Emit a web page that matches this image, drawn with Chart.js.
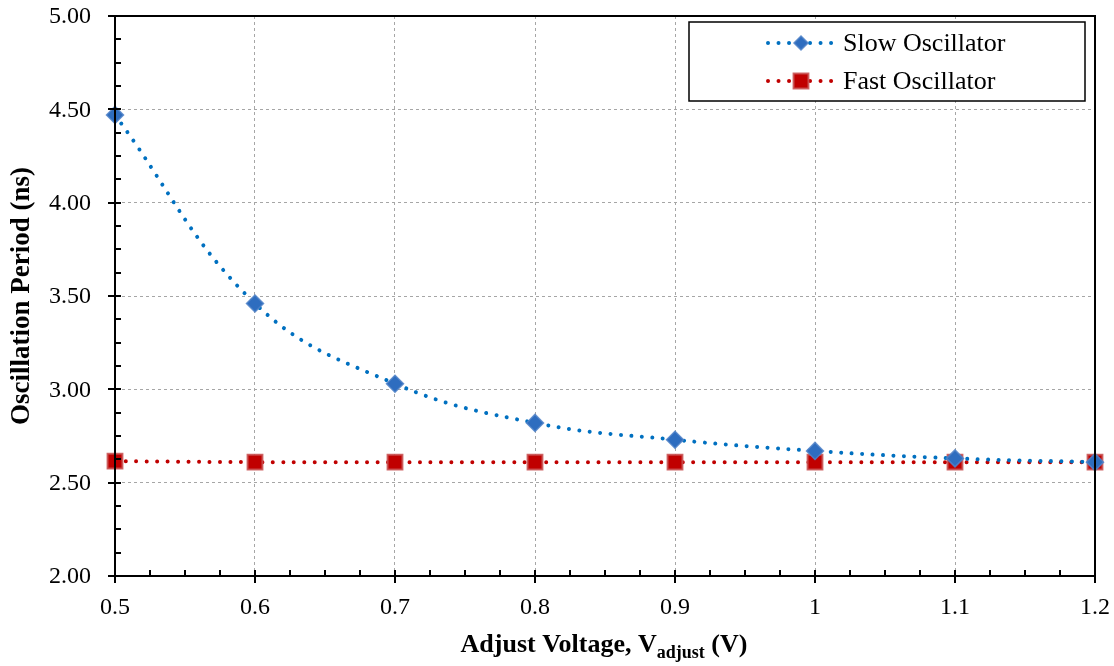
<!DOCTYPE html>
<html>
<head>
<meta charset="utf-8">
<script src="https://cdn.jsdelivr.net/npm/chart.js@4"></script>
<style>
  html, body { margin: 0; padding: 0; background: #fff; }
  #wrap { width: 1114px; height: 666px; }
</style>
</head>
<body>
<div id="wrap"><canvas id="chart" width="1114" height="666"></canvas></div>
<script>
// data
const voltages = [0.5, 0.6, 0.7, 0.8, 0.9, 1.0, 1.1, 1.2];
const slowPeriod = [4.47, 3.46, 3.03, 2.82, 2.73, 2.67, 2.63, 2.61];
const fastPeriod = [2.615, 2.61, 2.61, 2.61, 2.61, 2.61, 2.61, 2.61];
const yTicks = [2.0, 2.5, 3.0, 3.5, 4.0, 4.5, 5.0];
const seriesNames = ['Slow Oscillator', 'Fast Oscillator'];
const yTitle = 'Oscillation Period (ns)';

const serif = '"Liberation Serif", "Times New Roman", serif';

function toPoints(xs, ys) {
    return xs.map((x, i) => ({ x: x, y: ys[i] }));
}

function drawMarker(ctx, style, r, x, y) {
    if (style === 'rectRot') {
        ctx.moveTo(x, y - r);
        ctx.lineTo(x + r, y);
        ctx.lineTo(x, y + r);
        ctx.lineTo(x - r, y);
        ctx.closePath();
    } else {
        const s = r / Math.SQRT2;
        ctx.rect(x - s, y - s, 2 * s, 2 * s);
    }
}

// frame, ticks, tick labels, legend and axis titles
const decorPlugin = {
    id: 'decor',
    afterDraw(chart) {
        const ctx = chart.ctx;
        const area = chart.chartArea;
        const xs = chart.scales.x;
        const ys = chart.scales.y;
        ctx.save();

        ctx.strokeStyle = '#000';
        ctx.lineWidth = 2;
        ctx.strokeRect(area.left, area.top, area.right - area.left, area.bottom - area.top);

        // y ticks
        for (let v = 2; v <= 5.0001; v += 0.125) {
            const py = Math.round(ys.getPixelForValue(v));
            const major = Math.abs(v * 2 - Math.round(v * 2)) < 1e-6;
            ctx.beginPath();
            ctx.moveTo(major ? area.left - 7 : area.left, py);
            ctx.lineTo(area.left + 6, py);
            ctx.stroke();
        }
        // x ticks
        for (let v = 0.5; v <= 1.2001; v += 0.025) {
            const px = Math.round(xs.getPixelForValue(v));
            const major = Math.abs(v * 10 - Math.round(v * 10)) < 1e-6;
            ctx.beginPath();
            ctx.moveTo(px, major ? area.bottom + 7 : area.bottom);
            ctx.lineTo(px, area.bottom - 6);
            ctx.stroke();
        }

        // tick labels
        ctx.fillStyle = '#000';
        ctx.font = '24px ' + serif;
        ctx.textAlign = 'right';
        ctx.textBaseline = 'middle';
        yTicks.forEach(v => {
            ctx.fillText(v.toFixed(2), 91, ys.getPixelForValue(v) + 1);
        });
        ctx.textAlign = 'center';
        voltages.forEach(v => {
            ctx.fillText(String(Number(v.toFixed(1))), xs.getPixelForValue(v), 608);
        });

        // legend
        const lx = 689, ly = 22, lw = 396, lh = 79;
        ctx.fillStyle = '#fff';
        ctx.fillRect(lx, ly, lw, lh);
        ctx.strokeStyle = '#000';
        ctx.lineWidth = 1.5;
        ctx.strokeRect(lx, ly, lw, lh);
        const legendSize = [7, 10.5];
        chart.data.datasets.forEach((ds, i) => {
            const cy = 43 + i * 38;
            ctx.save();
            ctx.strokeStyle = ds.borderColor;
            ctx.lineWidth = 4;
            ctx.lineCap = 'round';
            ctx.setLineDash([0.01, 10.5]);
            ctx.beginPath();
            ctx.moveTo(768, cy);
            ctx.lineTo(834, cy);
            ctx.stroke();
            ctx.restore();
            ctx.fillStyle = ds.pointBackgroundColor;
            ctx.strokeStyle = ds.pointBorderColor;
            ctx.lineWidth = ds.pointBorderWidth;
            ctx.beginPath();
            drawMarker(ctx, ds.pointStyle, legendSize[i], 801, cy);
            ctx.fill();
            ctx.stroke();
            ctx.fillStyle = '#000';
            ctx.font = '26px ' + serif;
            ctx.textAlign = 'left';
            ctx.textBaseline = 'middle';
            ctx.fillText(ds.label, 843, cy + 1);
        });

        // y title
        ctx.fillStyle = '#000';
        ctx.font = 'bold 27px ' + serif;
        ctx.textAlign = 'center';
        ctx.textBaseline = 'middle';
        ctx.save();
        ctx.translate(22, (area.top + area.bottom) / 2);
        ctx.rotate(-Math.PI / 2);
        ctx.fillText(yTitle, 0, 0);
        ctx.restore();

        // x title with subscript
        const p1 = 'Adjust Voltage, V', sub = 'adjust', p2 = ' (V)';
        const bigFont = 'bold 26px ' + serif, subFont = 'bold 18px ' + serif;
        ctx.font = bigFont;
        const w1 = ctx.measureText(p1).width, w3 = ctx.measureText(p2).width;
        ctx.font = subFont;
        const w2 = ctx.measureText(sub).width;
        let tx = 604 - (w1 + w2 + w3) / 2;
        const base = 652;
        ctx.textAlign = 'left';
        ctx.textBaseline = 'alphabetic';
        ctx.font = bigFont;
        ctx.fillText(p1, tx, base);
        tx += w1;
        ctx.font = subFont;
        ctx.fillText(sub, tx, base + 6);
        tx += w2;
        ctx.font = bigFont;
        ctx.fillText(p2, tx, base);
        ctx.restore();
    }
};

const config = {
    type: 'line',
    data: {
        datasets: [{
            label: seriesNames[0],
            data: toPoints(voltages, slowPeriod),
            borderColor: '#0070C0',
            borderWidth: 4,
            borderDash: [0.01, 10.5],
            borderCapStyle: 'round',
            tension: 0.4,
            pointStyle: 'rectRot',
            pointRadius: 8.5,
            pointBorderWidth: 1.5,
            pointBackgroundColor: '#2E6DBF',
            pointBorderColor: 'rgba(80,130,200,0.85)',
            fill: false
        }, {
            label: seriesNames[1],
            data: toPoints(voltages, fastPeriod),
            borderColor: '#C00000',
            borderWidth: 4,
            borderDash: [0.01, 10.5],
            borderCapStyle: 'round',
            tension: 0.4,
            pointStyle: 'rect',
            pointRadius: 10.5,
            pointBorderWidth: 2,
            pointBackgroundColor: '#C00000',
            pointBorderColor: 'rgba(200,80,80,0.85)',
            fill: false
        }]
    },
    options: {
        responsive: false,
        animation: false,
        clip: false,
        layout: { padding: { top: 16, right: 19, left: 0, bottom: 0 } },
        plugins: { legend: { display: false }, tooltip: { enabled: false } },
        scales: {
            x: {
                type: 'linear',
                min: 0.5,
                max: 1.2,
                afterFit(scale) { scale.height = 90; },
                afterBuildTicks(scale) {
                    scale.ticks = voltages.map(v => ({ value: v }));
                },
                ticks: { display: false },
                grid: { color: '#a6a6a6', lineWidth: 1, drawTicks: false },
                border: { color: '#000', width: 2, dash: [3, 3] }
            },
            y: {
                min: 2,
                max: 5,
                afterFit(scale) { scale.width = 115; },
                afterBuildTicks(scale) {
                    scale.ticks = yTicks.map(v => ({ value: v }));
                },
                ticks: { display: false },
                grid: { color: '#a6a6a6', lineWidth: 1, drawTicks: false },
                border: { color: '#000', width: 2, dash: [3, 3] }
            }
        }
    },
    plugins: [decorPlugin]
};

new Chart(document.getElementById('chart'), config);
</script>
</body>
</html>
